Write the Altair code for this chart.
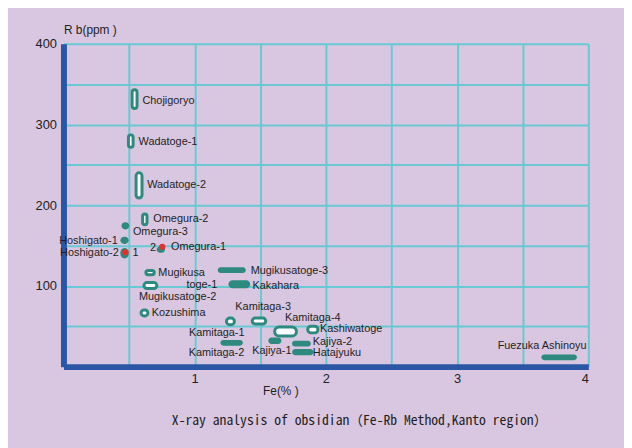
import altair as alt
import pandas as pd

# ---- data ----
names = ["Chojigoryo", "Wadatoge-1", "Wadatoge-2", "Omegura-2", "Omegura-3",
         "Hoshigato-1", "Hoshigato-2", "Omegura-1", "Mugikusatoge-1", "Mugikusatoge-2",
         "Kozushima", "Mugikusatoge-3", "Kakahara", "Kamitaga-1", "Kamitaga-3",
         "Kamitaga-4", "Kashiwatoge", "Kamitaga-2", "Kajiya-1", "Kajiya-2",
         "Hatajyuku", "Fuezuka Ashinoyu"]
fe_lo = [0.512, 0.484, 0.542, 0.592, 0.442, 0.434, 0.434, 0.710, 0.617, 0.602,
         0.580, 1.176, 1.257, 1.231, 1.427, 1.598, 1.850, 1.196, 1.561, 1.742,
         1.742, 3.642]
fe_hi = [0.572, 0.542, 0.610, 0.648, 0.502, 0.497, 0.497, 0.774, 0.703, 0.723,
         0.655, 1.389, 1.423, 1.314, 1.553, 1.787, 1.951, 1.367, 1.661, 1.885,
         1.906, 3.913]
rb_lo = [318, 270, 207, 174, 170, 152, 134, 141, 112, 95,
         61, 116, 97, 50, 51, 36, 40, 26, 28, 25,
         14, 8]
rb_hi = [345, 289, 242, 191, 179, 161, 147, 149, 121, 106,
         72, 123, 107, 62, 62, 51, 52, 33, 36, 32,
         22, 15]
hollow = [True, True, True, True, False, False, False, False, True, True,
          True, False, False, True, True, True, True, False, False, False,
          False, False]

label_text = ["Chojigoryo", "Wadatoge-1", "Wadatoge-2", "Omegura-2", "Omegura-3",
              "Hoshigato-1", "Hoshigato-2", "1", "2", "Omegura-1", "Mugikusa",
              "toge-1", "Mugikusatoge-2", "Kozushima", "Mugikusatoge-3", "Kakahara",
              "Kamitaga-3", "Kamitaga-4", "Kamitaga-1", "Kashiwatoge", "Kamitaga-2",
              "Kajiya-1", "Kajiya-2", "Hatajyuku", "Fuezuka Ashinoyu"]
label_fe = [0.602, 0.572, 0.638, 0.685, 0.529, 0.414, 0.421, 0.527, 0.706, 0.819,
            0.723, 0.937, 0.870, 0.672, 1.427, 1.440, 1.522, 1.900, 1.168, 1.955,
            1.166, 1.738, 1.900, 1.900, 3.986]
label_rb = [329.3, 277.8, 225.4, 183.3, 166.9, 155.8, 141.1, 140.4, 146.5, 147.7,
            116.6, 100.6, 85.9, 65.9, 119.0, 100.2, 74.1, 60.1, 42.2, 46.3,
            16.8, 19.6, 29.9, 16.8, 25.8]
label_align = ["left", "left", "left", "left", "left", "right", "right", "left",
               "right", "left", "left", "left", "center", "left", "left", "left",
               "center", "center", "center", "left", "center", "right", "left",
               "left", "right"]

red_fe = [0.472, 0.753]
red_rb = [141.6, 148.5]

x_grid = [0.5, 1, 1.5, 2, 2.5, 3, 3.5, 4]
y_grid = [50, 100, 150, 200, 250, 300, 350, 400]

# ---- tables ----
ell = pd.DataFrame({"name": names, "fe_lo": fe_lo, "fe_hi": fe_hi,
                    "rb_lo": rb_lo, "rb_hi": rb_hi, "hollow": hollow})
lab = pd.DataFrame({"text": label_text, "fe": label_fe, "rb": label_rb,
                    "align": label_align})
red = pd.DataFrame({"fe": red_fe, "rb": red_rb})

TEAL = "#2E8A7E"
BLUE = "#2B56A6"
GRID = "#69C9D3"
BG = "#D9C7E1"
FONT = "Liberation Sans"

xs = alt.Scale(domain=[0, 4], nice=False, zero=False)
ys = alt.Scale(domain=[0, 400], nice=False, zero=False)

x_axis = alt.Axis(values=x_grid, grid=True, gridColor=GRID, gridWidth=2,
                  domainColor=BLUE, domainWidth=6, ticks=False,
                  labelOverlap=False,
                  labelExpr="datum.value % 1 == 0 ? '' + datum.value : ''",
                  labelFont=FONT, labelFontSize=13, labelColor="#222222",
                  labelPadding=6, title="Fe(% )", titleFont=FONT,
                  titleFontSize=12, titleFontWeight="normal",
                  titleColor="#222222", titleX=219, titleY=24,
                  titleBaseline="middle", titleAlign="center")
y_axis = alt.Axis(values=y_grid, grid=True, gridColor=GRID, gridWidth=2,
                  domainColor=BLUE, domainWidth=6, ticks=False,
                  labelOverlap=False,
                  labelExpr="datum.value % 100 == 0 ? '' + datum.value : ''",
                  labelFont=FONT, labelFontSize=13, labelColor="#222222",
                  labelPadding=7, title="R b(ppm )", titleFont=FONT,
                  titleFontSize=12, titleFontWeight="normal",
                  titleColor="#222222", titleAngle=0, titleAlign="left",
                  titleX=0, titleY=-14, titleBaseline="middle")

filled = alt.Chart(ell).transform_filter("!datum.hollow").mark_rect(
    color=TEAL, cornerRadius=60
).encode(
    x=alt.X("fe_lo:Q", scale=xs, axis=x_axis),
    x2="fe_hi:Q",
    y=alt.Y("rb_lo:Q", scale=ys, axis=y_axis),
    y2="rb_hi:Q",
)

rings = alt.Chart(ell).transform_filter("datum.hollow").mark_rect(
    fill="white", stroke=TEAL, strokeWidth=3, cornerRadius=60,
    xOffset=1.5, x2Offset=-1.5, yOffset=-1.5, y2Offset=1.5
).encode(
    x=alt.X("fe_lo:Q", scale=xs),
    x2="fe_hi:Q",
    y=alt.Y("rb_lo:Q", scale=ys),
    y2="rb_hi:Q",
)

dots = alt.Chart(red).mark_point(filled=True, color="#E8302A", size=40,
                                 opacity=1).encode(
    x=alt.X("fe:Q", scale=xs), y=alt.Y("rb:Q", scale=ys))

def text_layer(al):
    return alt.Chart(lab).transform_filter(f"datum.align == '{al}'").mark_text(
        align=al, baseline="middle", font=FONT, fontSize=11, color="#1E1E1E"
    ).encode(x=alt.X("fe:Q", scale=xs), y=alt.Y("rb:Q", scale=ys), text="text:N")

chart = alt.layer(
    filled, rings, dots, text_layer("left"), text_layer("right"),
    text_layer("center")
).properties(
    width=530, height=326,
    background=BG,
    padding={"left": 56, "top": 34, "right": 36, "bottom": 80},
    autosize=alt.AutoSizeParams(type="none"),
    title=alt.TitleParams(
        "X-ray analysis of obsidian（Fe-Rb Method,Kanto region）",
        orient="bottom", anchor="middle", dx=34, offset=18,
        font="Noto Sans Mono CJK JP, Noto Sans CJK JP", fontSize=13.8,
        fontWeight="normal", color="#1E1E1E"),
).configure_view(stroke=None)

chart.save("out.html", embed_options={"renderer": "svg", "actions": False})
